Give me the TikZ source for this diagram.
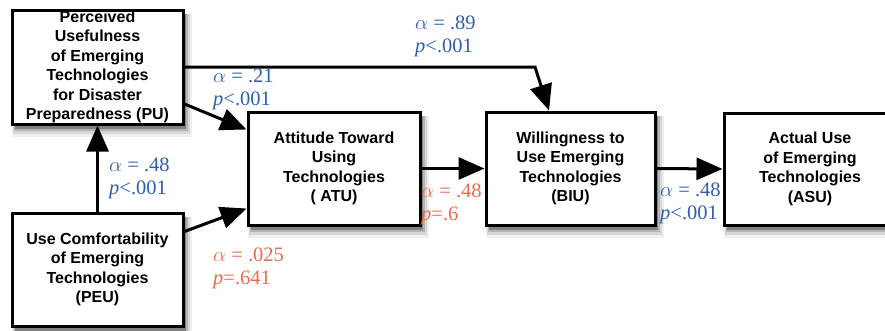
\documentclass[tikz,border=0pt]{standalone}
\usepackage{fontspec}
\setmainfont{Liberation Sans}
\newfontfamily\labfont{Liberation Serif}
\usetikzlibrary{arrows.meta}
\definecolor{labblue}{RGB}{45,95,170}
\definecolor{labred}{RGB}{235,105,75}
\definecolor{sh1}{RGB}{240,240,240}
\definecolor{sh2}{RGB}{215,215,215}
\definecolor{sh3}{RGB}{180,180,180}
\definecolor{sh4}{RGB}{130,130,130}
\newcommand\myshadow[4]{%
  \fill[sh1] ({#1+0},{#2+4}) rectangle ({#3+9},{#4+13});
  \fill[sh2] ({#1+1},{#2+4}) rectangle ({#3+7},{#4+10});
  \fill[sh3] ({#1+2},{#2+4}) rectangle ({#3+5},{#4+7});
  \fill[sh4] ({#1+3},{#2+4}) rectangle ({#3+3},{#4+4.5});
}
\tikzset{
  box/.style={draw, line width=3pt, fill=white, inner sep=0pt, align=center,
    font=\bfseries\fontsize{16}{19.5}\selectfont},
  arr/.style={line width=3pt, -{Triangle[length=26pt,width=22pt]}},
  lab/.style={anchor=west, align=left, inner sep=0pt, font=\labfont\fontsize{20.5}{23}\selectfont},
}
\begin{document}
\begin{tikzpicture}[x=1pt,y=-1pt]
\useasboundingbox (0,0) rectangle (885,330);
\myshadow{12}{10}{183}{124}
\myshadow{12}{213}{183}{326}
\myshadow{248}{112}{420}{225}
\myshadow{486}{112}{655}{225}
\myshadow{724}{113}{896}{225}
\node[box, minimum width=171pt, minimum height=114pt] (pu) at (97.5,67)
  {Perceived\\Usefulness\\of Emerging\\Technologies\\for Disaster\\Preparedness (PU)};
\node[box, minimum width=171pt, minimum height=113pt] (peu) at (97.5,269.5)
  {Use Comfortability\\of Emerging\\Technologies\\(PEU)};
\node[box, minimum width=172pt, minimum height=113pt] (atu) at (334,168.5)
  {Attitude Toward\\Using\\Technologies\\( ATU)};
\node[box, minimum width=169pt, minimum height=113pt] (biu) at (570.5,168.5)
  {Willingness to\\Use Emerging\\Technologies\\(BIU)};
\node[box, minimum width=172pt, minimum height=112pt] (asu) at (810,169)
  {Actual Use\\of Emerging\\Technologies\\(ASU)};
\coordinate (bend) at (535,67);
\draw[arr] (pu.east) -- (bend) -- ([xshift=-21.5pt]biu.north);
\draw[arr] ([yshift=-37pt]pu.east) -- ([yshift=-19pt]atu.north west);
\draw[arr] (peu.north) -- (pu.south);
\draw[arr] ([yshift=-20pt]peu.north east) -- ([yshift=18pt]atu.south west);
\draw[arr] (atu.east) -- (biu.west);
\draw[arr] (biu.east) -- (asu.west);
\node[lab, text=labblue] (l1) at (415,36.5) {$\alpha$ = .89\\\textit{p}<.001};
\node[lab, text=labblue] (l2) at (213,89) {$\alpha$ = .21\\\textit{p}<.001};
\node[lab, text=labblue] (l3) at (109,178.5) {$\alpha$ = .48\\\textit{p}<.001};
\node[lab, text=labred] (l4) at (213,268.5) {$\alpha$ = .025\\\textit{p}=.641};
\node[lab, text=labred] (l5) at (421,204.5) {$\alpha$ = .48\\\textit{p}=.6};
\node[lab, text=labblue] (l6) at (660,203) {$\alpha$ = .48\\\textit{p}<.001};
\end{tikzpicture}
\end{document}
